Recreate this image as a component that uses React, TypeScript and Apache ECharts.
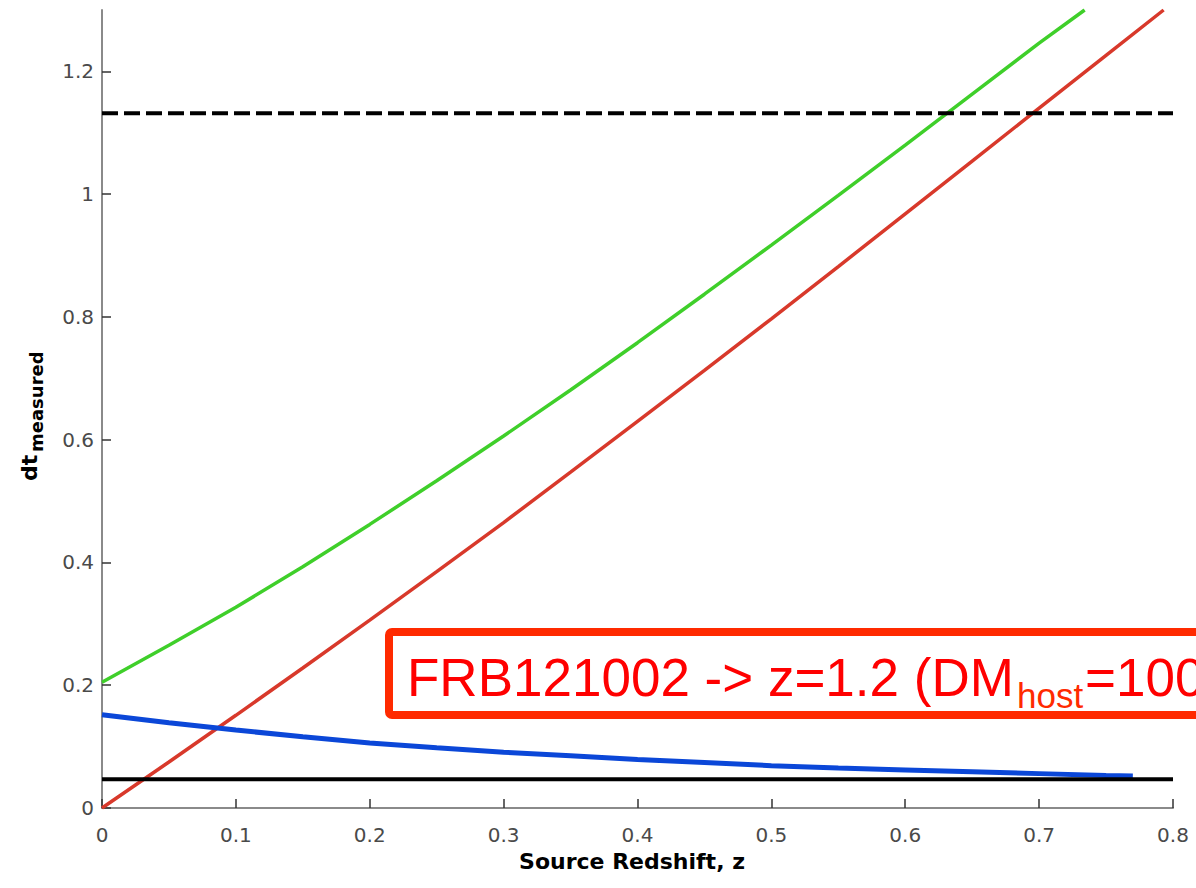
import React, { useEffect, useRef } from "react";
import * as echarts from "echarts";

// Source redshift z and measured dt for each curve
const greenZ = [0, 0.05, 0.1, 0.15, 0.2, 0.25, 0.3, 0.35, 0.4, 0.45, 0.5, 0.55, 0.6, 0.65, 0.7, 0.734];
const greenDt = [0.205, 0.265, 0.327, 0.393, 0.462, 0.533, 0.606, 0.681, 0.758, 0.837, 0.917, 0.998, 1.08, 1.163, 1.246, 1.3];

const redZ = [0, 0.05, 0.1, 0.15, 0.2, 0.25, 0.3, 0.35, 0.4, 0.45, 0.5, 0.55, 0.6, 0.65, 0.7, 0.75, 0.793];
const redDt = [0, 0.075, 0.151, 0.228, 0.306, 0.385, 0.465, 0.547, 0.63, 0.713, 0.797, 0.882, 0.968, 1.054, 1.14, 1.226, 1.3];

const blueZ = [0, 0.05, 0.1, 0.15, 0.2, 0.25, 0.3, 0.35, 0.4, 0.45, 0.5, 0.55, 0.6, 0.65, 0.7, 0.75, 0.77];
const blueDt = [0.152, 0.139, 0.127, 0.116, 0.106, 0.098, 0.091, 0.085, 0.079, 0.074, 0.069, 0.065, 0.062, 0.059, 0.056, 0.053, 0.052];

const solidZ = [0, 0.8];
const solidDt = [0.047, 0.047];

const dashedZ = [0, 0.8];
const dashedDt = [1.132, 1.132];

const yTicks = [0, 0.2, 0.4, 0.6, 0.8, 1, 1.2];

const pairs = (xs: number[], ys: number[]) => xs.map((x, i) => [x, ys[i]]);
const fmt = (v: number) => String(Math.round(v * 10) / 10);

export default function App() {
  const ref = useRef<HTMLDivElement>(null);
  useEffect(() => {
    if (!ref.current) return;
    const chart = echarts.init(ref.current, null, { renderer: "svg" });
    const tickFont = { fontFamily: "DejaVu Sans", fontSize: 20, color: "#4a4a4a" };
    chart.setOption({
      animation: false,
      backgroundColor: "#fff",
      grid: { left: 102, right: 23, top: 10, bottom: 80 },
      xAxis: {
        type: "value",
        min: 0,
        max: 0.8,
        interval: 0.1,
        splitLine: { show: false },
        axisLine: { show: true, lineStyle: { color: "#8a8a8a", width: 2 } },
        axisTick: { show: true, inside: true, length: 9, lineStyle: { color: "#333", width: 1.5 } },
        axisLabel: { ...tickFont, margin: 17, formatter: fmt },
      },
      yAxis: {
        type: "value",
        min: 0,
        max: 1.3,
        splitLine: { show: false },
        axisLine: { show: true, onZero: false, lineStyle: { color: "#8a8a8a", width: 2 } },
        axisTick: { show: true, inside: true, length: 9, customValues: yTicks, lineStyle: { color: "#333", width: 1.5 } },
        axisLabel: { ...tickFont, margin: 8, customValues: yTicks, formatter: fmt },
      },
      series: [
        {
          type: "line", data: pairs(greenZ, greenDt), showSymbol: false,
          lineStyle: { color: "#3fcf2a", width: 3.5 },
        },
        {
          type: "line", data: pairs(redZ, redDt), showSymbol: false,
          lineStyle: { color: "#d8392b", width: 3.5 },
        },
        {
          type: "line", data: pairs(blueZ, blueDt), showSymbol: false,
          lineStyle: { color: "#0b47d8", width: 5 },
        },
        {
          type: "line", data: pairs(solidZ, solidDt), showSymbol: false,
          lineStyle: { color: "#000", width: 4 },
        },
        {
          type: "line", data: pairs(dashedZ, dashedDt), showSymbol: false,
          lineStyle: { color: "#000", width: 4, type: [16, 6] },
        },
      ],
      graphic: [
        {
          type: "text", x: 29, y: 481, rotation: Math.PI / 2,
          style: { text: "dt", fontFamily: "DejaVu Sans", fontWeight: "bold", fontSize: 22, fill: "#000", align: "left", verticalAlign: "middle" },
        },
        {
          type: "text", x: 36, y: 452, rotation: Math.PI / 2,
          style: { text: "measured", fontFamily: "DejaVu Sans", fontWeight: "bold", fontSize: 18, fill: "#000", align: "left", verticalAlign: "middle" },
        },
        {
          type: "text", x: 632, y: 861,
          style: { text: "Source Redshift, z", fontFamily: "DejaVu Sans", fontWeight: "bold", fontSize: 22, fill: "#000", align: "center", verticalAlign: "middle" },
        },
        {
          type: "rect", shape: { x: 389, y: 632, width: 900, height: 83, r: 3 },
          style: { fill: "#fff", stroke: "#ff2a00", lineWidth: 8 },
        },
        {
          type: "text", x: 407, y: 677,
          style: { text: "FRB121002 -> z=1.2 (DM", fontFamily: "Liberation Sans", fontSize: 53, fill: "#ff0000", align: "left", verticalAlign: "middle" },
        },
        {
          type: "text", x: 1017, y: 695,
          style: { text: "host", fontFamily: "Liberation Sans", fontSize: 35, fill: "#ff2a00", align: "left", verticalAlign: "middle" },
        },
        {
          type: "text", x: 1085, y: 677,
          style: { text: "=100)", fontFamily: "Liberation Sans", fontSize: 53, fill: "#ff0000", align: "left", verticalAlign: "middle" },
        },
      ],
    });
    return () => chart.dispose();
  }, []);
  return <div ref={ref} style={{ position: "absolute", left: 0, top: 0, width: 1196, height: 888 }} />;
}
